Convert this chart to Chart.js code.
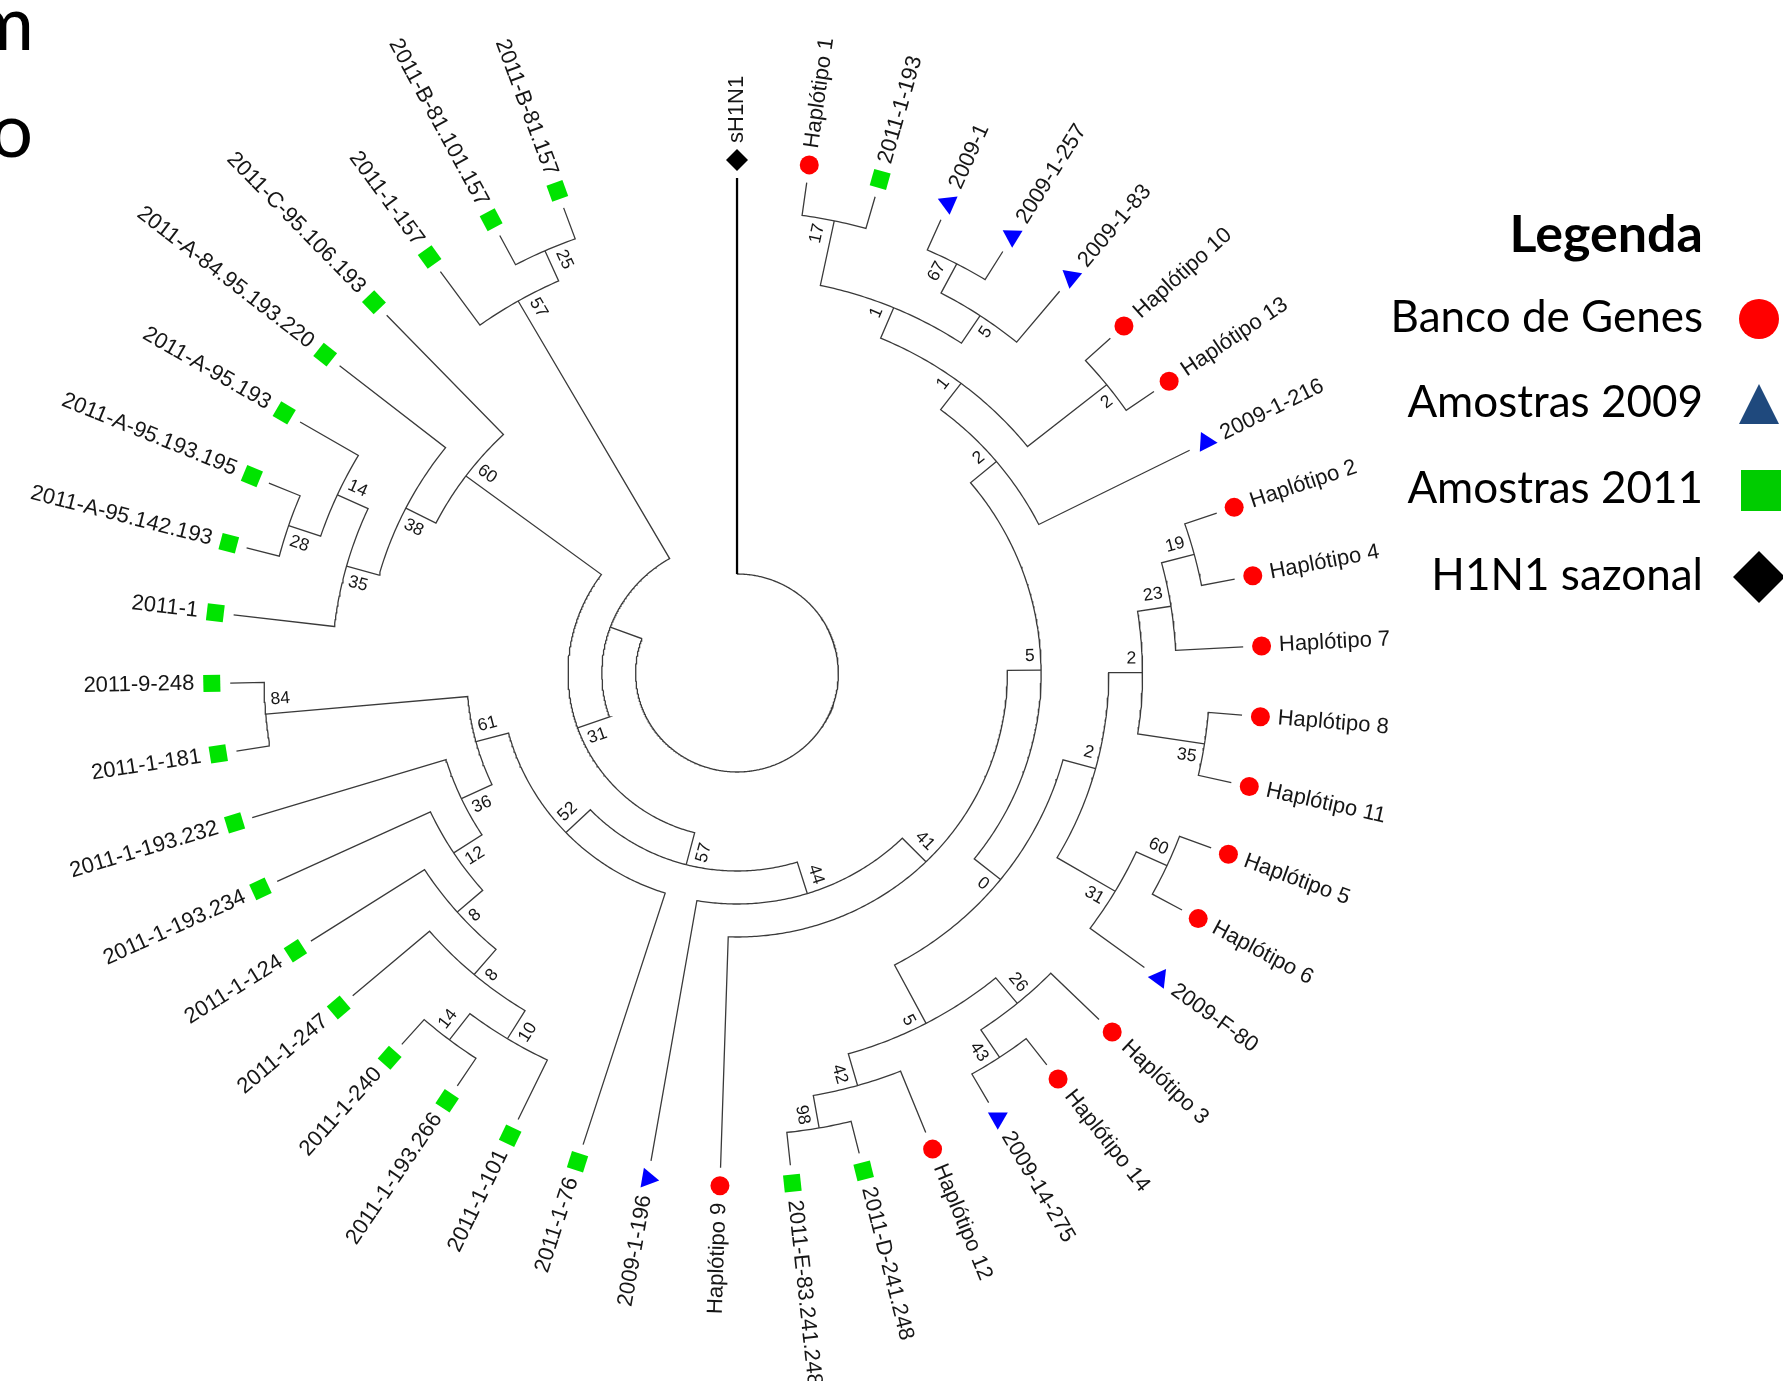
<!DOCTYPE html>
<html>
<head>
<meta charset="utf-8">
<title>Árvore filogenética H1N1</title>
<script src="https://cdn.jsdelivr.net/npm/chart.js@4.4.1/dist/chart.umd.min.js"></script>
<style>
  html, body { margin: 0; padding: 0; background: #ffffff; }
  #wrap { width: 1783px; height: 1381px; }
</style>
</head>
<body>
<div id="wrap"><canvas id="arvore" width="1783" height="1381"></canvas></div>
<script>
// Folhas na ordem horária, começando no topo (sH1N1)
const folhas = [
  'sH1N1', 'Haplótipo 1', '2011-1-193', '2009-1', '2009-1-257', '2009-1-83',
  'Haplótipo 10', 'Haplótipo 13', '2009-1-216', 'Haplótipo 2', 'Haplótipo 4',
  'Haplótipo 7', 'Haplótipo 8', 'Haplótipo 11', 'Haplótipo 5', 'Haplótipo 6',
  '2009-F-80', 'Haplótipo 3', 'Haplótipo 14', '2009-14-275', 'Haplótipo 12',
  '2011-D-241.248', '2011-E-83.241.248', 'Haplótipo 9', '2009-1-196', '2011-1-76',
  '2011-1-101', '2011-1-193.266', '2011-1-240', '2011-1-247', '2011-1-124',
  '2011-1-193.234', '2011-1-193.232', '2011-1-181', '2011-9-248', '2011-1',
  '2011-A-95.142.193', '2011-A-95.193.195', '2011-A-95.193', '2011-A-84.95.193.220',
  '2011-C-95.106.193', '2011-1-157', '2011-B-81.101.157', '2011-B-81.157'
];

// H = H1N1 sazonal, G = Banco de Genes, A9 = Amostras 2009, A11 = Amostras 2011
const grupos = [
  'H', 'G', 'A11', 'A9', 'A9', 'A9', 'G', 'G', 'A9', 'G', 'G',
  'G', 'G', 'G', 'G', 'G', 'A9', 'G', 'G', 'A9', 'G',
  'A11', 'A11', 'G', 'A9', 'A11', 'A11', 'A11', 'A11', 'A11', 'A11',
  'A11', 'A11', 'A11', 'A11', 'A11', 'A11', 'A11', 'A11', 'A11',
  'A11', 'A11', 'A11', 'A11'
];

// Topologia (Newick com o número da folha) e valores de bootstrap nos nós
const topologia = '(1,((((((((((2,3)17,((4,5)67,6)5)1,(7,8)2)1,9)2,(((((10,11)19,12)23,(13,14)35)2,((15,16)60,17)31)2,((18,(19,20)43)26,(21,(22,23)98)42)5)0)5,24)41,25)44,(26,((((((27,(28,29)14)10,30)8,31)8,32)12,33)36,(34,35)84)61)52)57,(((36,((37,38)28,39)14)35,40)38,41)60)31,(42,(43,44)25)57))';

const legendaTitulo = 'Legenda';
const legendaGrupos = ['G', 'A9', 'A11', 'H'];
const legendaTextos = ['Banco de Genes', 'Amostras 2009', 'Amostras 2011', 'H1N1 sazonal'];

// ---- leitura da árvore ----
function lerArvore(s) {
  let i = 0;
  function no() {
    if (s[i] === '(') {
      i++;
      const filhos = [no()];
      while (s[i] === ',') { i++; filhos.push(no()); }
      i++; // ')'
      let sup = '';
      while (i < s.length && /[0-9]/.test(s[i])) sup += s[i++];
      return { filhos: filhos, suporte: sup };
    }
    let n = '';
    while (i < s.length && /[0-9]/.test(s[i])) n += s[i++];
    return { folha: parseInt(n, 10) - 1 };
  }
  return no();
}

// geometria do layout circular
const PASSO = 340 / 43;          // graus entre folhas
const R_RAIZ = 99, DR = 33;      // raio da raiz e de cada nível
const R_MARCA = 513, R_TEXTO = 530;
const CX = 737, CY = 673, ESTICA = 1.024, W = 1783, H = 1381;

const raiz = lerArvore(topologia);
const internos = [];
const nosFolha = [];

function montar(n) {
  if (n.filhos) {
    n.filhos.forEach((f, k) => { f.lado = k === 0 ? 1 : -1; montar(f); });
    n.altura = 1 + Math.max(...n.filhos.map(f => f.altura));
    n.ang = (n.filhos[0].ang + n.filhos[n.filhos.length - 1].ang) / 2;
    internos.push(n);
  } else {
    n.altura = 0;
    n.ang = 90 - n.folha * PASSO;
    nosFolha.push(n);
  }
}
montar(raiz);
const NIVEL_MAX = raiz.altura;
const raio = n => R_RAIZ + DR * (NIVEL_MAX - n.altura);

function polar(r, a) {
  const t = a * Math.PI / 180;
  return { x: r * Math.cos(t), y: r * Math.sin(t) };
}

// ramos: para cada nó, haste do primeiro filho, arco e haste do último filho
const ramos = [];
internos.forEach(n => {
  const f1 = n.filhos[0], f2 = n.filhos[n.filhos.length - 1];
  const r = raio(n);
  const pts = [polar(raio(f1), f1.ang)];
  const passos = Math.max(2, Math.ceil(Math.abs(f2.ang - f1.ang) / 0.5));
  for (let k = 0; k <= passos; k++) {
    pts.push(polar(r, f1.ang + (f2.ang - f1.ang) * k / passos));
  }
  pts.push(polar(raio(f2), f2.ang));
  ramos.push(pts);
});

const datasets = [];
const cores = { G: '#ff0000', A9: '#0000ff', A11: '#00e400', H: '#000000' };
const estilos = { G: 'circle', A9: 'triangle', A11: 'rect', H: 'rectRot' };
const tamanhos = { G: 9.5, A9: 11.5, A11: 12, H: 11 };

['G', 'A9', 'A11', 'H'].forEach(g => {
  const fs = nosFolha.filter(f => grupos[f.folha] === g);
  datasets.push({
    label: g,
    data: fs.map(f => polar(R_MARCA, f.ang)),
    pointStyle: estilos[g],
    pointRadius: tamanhos[g],
    pointRotation: fs.map(f => -f.ang),
    pointBackgroundColor: cores[g],
    pointBorderWidth: 0,
    showLine: false,
    order: 0
  });
});

// haste do grupo externo (sH1N1), mais escura
const externo = nosFolha.find(f => f.folha === 0);
datasets.push({
  label: 'externo',
  data: [polar(raio(externo), 90), polar(R_RAIZ, 90)],
  showLine: true, borderColor: '#000000', borderWidth: 2.2,
  pointRadius: 0, order: 1
});

ramos.forEach(pts => {
  datasets.push({
    data: pts, showLine: true, borderColor: '#3a3a3a', borderWidth: 1.3,
    pointRadius: 0, tension: 0, fill: false, order: 2
  });
});

const textos = {
  id: 'textos',
  afterDatasetsDraw(chart) {
    const ctx = chart.ctx;
    const sx = chart.scales.x, sy = chart.scales.y;
    const px = (r, a) => {
      const p = polar(r, a);
      return [sx.getPixelForValue(p.x), sy.getPixelForValue(p.y)];
    };
    const direcao = a => {
      const p0 = px(100, a), p1 = px(101, a);
      return Math.atan2(p1[1] - p0[1], p1[0] - p0[0]);
    };

    // nomes das folhas
    ctx.save();
    ctx.font = '22px "Liberation Sans", Arial, sans-serif';
    ctx.fillStyle = '#161616';
    ctx.textBaseline = 'middle';
    nosFolha.forEach(f => {
      const p = px(R_TEXTO, f.ang);
      const inv = f.ang < -90;
      ctx.save();
      ctx.translate(p[0], p[1]);
      ctx.rotate(direcao(f.ang) + (inv ? Math.PI : 0));
      ctx.textAlign = inv ? 'right' : 'left';
      ctx.fillText(folhas[f.folha], 0, 0);
      ctx.restore();
    });
    ctx.restore();

    // valores de bootstrap
    ctx.save();
    ctx.font = '17.5px "Liberation Sans", Arial, sans-serif';
    ctx.fillStyle = '#161616';
    ctx.textBaseline = 'middle';
    internos.forEach(n => {
      if (!n.suporte) return;
      const r = raio(n) - 6;
      const p = px(r, n.ang), q = px(r, n.ang + 0.5);
      let nx = q[0] - p[0], ny = q[1] - p[1];
      const L = Math.hypot(nx, ny); nx /= L; ny /= L;
      const d = 14 * n.lado;
      const inv = n.ang < -90;
      ctx.save();
      ctx.translate(p[0] + nx * d, p[1] + ny * d);
      ctx.rotate(direcao(n.ang) + (inv ? Math.PI : 0));
      ctx.textAlign = inv ? 'left' : 'right';
      ctx.fillText(n.suporte, 0, 0);
      ctx.restore();
    });
    ctx.restore();

    // legenda
    ctx.save();
    ctx.fillStyle = '#000000';
    ctx.textAlign = 'right';
    ctx.textBaseline = 'alphabetic';
    ctx.font = 'bold 52px Lato, "Noto Sans", sans-serif';
    ctx.fillText(legendaTitulo, 1703, 252);
    ctx.font = '44px Lato, "Noto Sans", sans-serif';
    const bases = [332, 417, 503, 590];
    legendaTextos.forEach((t, k) => ctx.fillText(t, 1703, bases[k]));
    const sx0 = 1759;
    legendaGrupos.forEach((g, k) => {
      const cy = bases[k] - 13;
      ctx.beginPath();
      if (g === 'G') {
        ctx.fillStyle = '#ff0000';
        ctx.arc(sx0, cy, 20, 0, Math.PI * 2);
      } else if (g === 'A9') {
        ctx.fillStyle = '#1f497d';
        ctx.moveTo(sx0, cy - 20); ctx.lineTo(sx0 + 20, cy + 20); ctx.lineTo(sx0 - 20, cy + 20);
      } else if (g === 'A11') {
        ctx.fillStyle = '#00cc00';
        ctx.rect(sx0 - 18, cy - 20, 40, 41);
      } else {
        ctx.fillStyle = '#000000';
        ctx.moveTo(sx0, cy - 26); ctx.lineTo(sx0 + 26, cy); ctx.lineTo(sx0, cy + 26); ctx.lineTo(sx0 - 26, cy);
      }
      ctx.closePath();
      ctx.fill();
    });

    // restos do texto do slide à esquerda
    ctx.fillStyle = '#000000';
    ctx.font = '76px Lato, "Noto Sans", sans-serif';
    ctx.textAlign = 'right';
    ctx.fillText('m', 34, 50);
    ctx.fillText('o', 33, 157);
    ctx.restore();
  }
};

new Chart(document.getElementById('arvore').getContext('2d'), {
  type: 'scatter',
  data: { datasets: datasets },
  options: {
    responsive: false,
    animation: false,
    events: [],
    layout: { padding: 0, autoPadding: false },
    scales: {
      x: { type: 'linear', display: false, min: -CX / ESTICA, max: (W - CX) / ESTICA },
      y: { type: 'linear', display: false, min: -(H - CY), max: CY }
    },
    plugins: { legend: { display: false }, tooltip: { enabled: false } }
  },
  plugins: [textos]
});
</script>
</body>
</html>
